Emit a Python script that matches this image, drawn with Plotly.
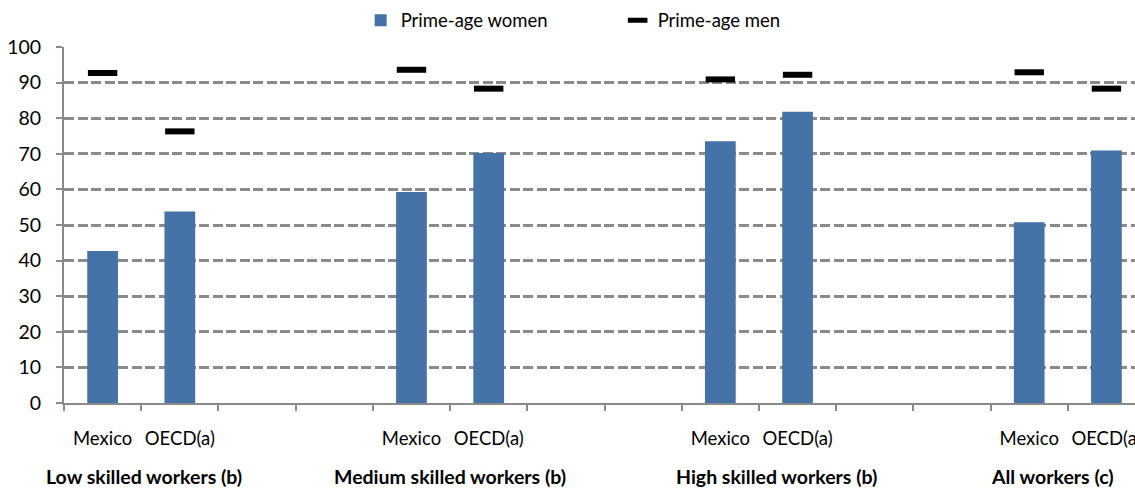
import plotly.graph_objects as go

groups = ["Low skilled workers (b)", "Medium skilled workers (b)",
          "High skilled workers (b)", "All workers (c)"]
regions = ["Mexico", "OECD(a)"]
women = [[42.7, 53.8], [59.3, 70.2], [73.5, 81.8], [50.8, 70.9]]
men = [[92.7, 76.3], [93.6, 88.3], [90.9, 92.2], [92.9, 88.3]]
group_label_pos = [0.54, 4.5, 8.73, 12.3]
y_ticks = list(range(0, 101, 10))

FONT = "Lato"
BLUE = "#4572A7"
GRAY = "#8a8a8a"

# build category ids: each group = Mexico, OECD, spacer, spacer
cats, ticktext, w_vals, m_vals = [], [], [], []
for gi, g in enumerate(groups):
    for ri, r in enumerate(regions):
        cats.append(f"{gi}-{r}")
        ticktext.append(r)
        w_vals.append(women[gi][ri])
        m_vals.append(men[gi][ri])
    for s in range(2):
        cats.append(f"{gi}-sp{s}")
        ticktext.append("")
        w_vals.append(None)
        m_vals.append(None)

fig = go.Figure()
fig.add_trace(go.Bar(
    x=cats, y=w_vals, name="Prime-age women",
    marker=dict(color=BLUE, line=dict(width=0)),
))
fig.add_trace(go.Scatter(
    x=cats, y=m_vals, name="Prime-age men", mode="markers",
    showlegend=False,
    marker=dict(symbol="line-ew", size=21, color="black",
                line=dict(color="black", width=6)),
))
# legend entry for the men series (smaller dash, as in the reference legend)
fig.add_trace(go.Scatter(
    x=[cats[0]], y=[None], name="Prime-age men", mode="markers",
    marker=dict(symbol="line-ew", size=14, color="black",
                line=dict(color="black", width=6)),
))

for gi, g in enumerate(groups):
    fig.add_annotation(
        x=group_label_pos[gi], xref="x", y=0, yref="paper",
        yshift=-73, text=f"<b>{g}</b>", showarrow=False,
        font=dict(family=FONT, size=19.5, color="black"),
        xanchor="center", yanchor="middle",
    )

fig.update_layout(
    width=1135, height=488,
    margin=dict(l=64, r=0, t=47, b=85),
    paper_bgcolor="white", plot_bgcolor="white",
    bargap=0.602,
    font=dict(family=FONT, size=18, color="black"),
    showlegend=True,
    legend=dict(
        orientation="h", x=0.277, xanchor="left",
        y=1.074, yanchor="middle",
        font=dict(family=FONT, size=18.5, color="black"),
        entrywidth=212, entrywidthmode="pixels",
        bgcolor="rgba(0,0,0,0)",
    ),
    xaxis=dict(
        type="category", categoryorder="array", categoryarray=cats,
        tickmode="array", tickvals=cats, ticktext=ticktext,
        tickson="boundaries", ticks="outside", ticklen=6, tickwidth=2,
        tickcolor=GRAY, showline=True, linecolor=GRAY, linewidth=2,
        showgrid=False, range=[-0.5, 13.37], automargin=False,
        ticklabelstandoff=18, tickangle=0,
        tickfont=dict(family=FONT, size=18.5, color="black"),
    ),
    yaxis=dict(
        range=[0, 100], tickmode="array", tickvals=y_ticks,
        ticks="outside", ticklen=6, tickwidth=2, tickcolor=GRAY,
        showline=True, linecolor=GRAY, linewidth=2,
        showgrid=True, gridcolor=GRAY, gridwidth=2.5, griddash="10px,3.5px",
        zeroline=False, automargin=False, ticklabelstandoff=11,
        tickfont=dict(family=FONT, size=19.5, color="black"),
    ),
)

fig.write_html("out.html")
